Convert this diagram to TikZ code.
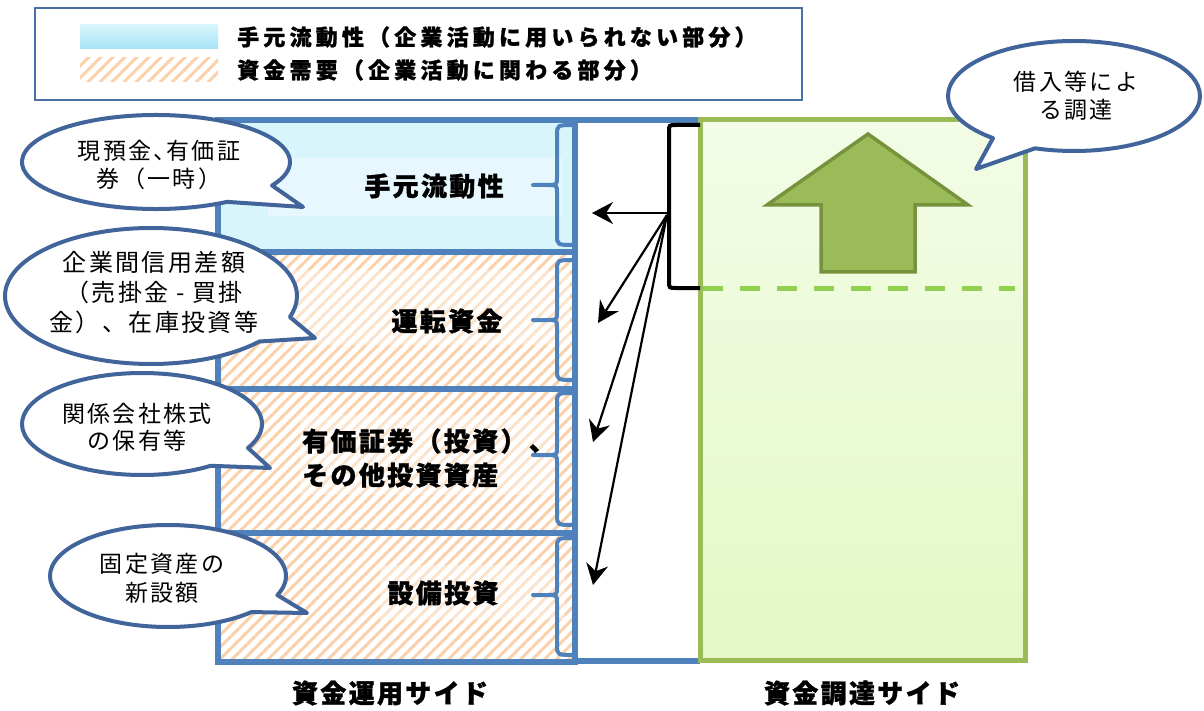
\documentclass[tikz,border=0pt]{standalone}
\usepackage{fontspec}
\setmainfont{Noto Sans CJK JP}
\newfontfamily\bubfont[LetterSpace=10]{Noto Sans CJK JP}
\newfontfamily\labfont[LetterSpace=9, BoldFeatures={FakeBold=1.2}]{Noto Sans CJK JP}
\newfontfamily\legfont[LetterSpace=19, BoldFeatures={FakeBold=1}]{Noto Sans CJK JP}
\usetikzlibrary{arrows.meta,patterns.meta}
\definecolor{colblue}{HTML}{4F81BD}
\definecolor{bubblue}{HTML}{41659A}
\definecolor{legblue}{HTML}{4A6FA5}
\definecolor{cyanfill}{HTML}{D9F5FC}
\definecolor{cyantop}{HTML}{D6F5FD}
\definecolor{cyanbot}{HTML}{A6E3F5}
\definecolor{hatchcol}{HTML}{FAD1AB}
\definecolor{greenline}{HTML}{9BBB59}
\definecolor{greentop}{HTML}{F3FCE6}
\definecolor{greenbot}{HTML}{E4F8C6}
\definecolor{arrowfill}{HTML}{9BBB59}
\definecolor{arrowline}{HTML}{76923C}
\definecolor{dashgreen}{HTML}{92D050}
\newcommand\mybubble[8]{%
  \draw[bub] ({#1+#3*cos(#6)},{#2+#4*sin(#6)}) arc[start angle=#6, end angle={#5+360}, x radius=#3, y radius=#4] -- (#7,#8) -- cycle;}
\begin{document}
\begin{tikzpicture}[x=1pt,y=-1pt,
  col/.style={draw=colblue, line width=5.5pt},
  brk/.style={draw=colblue, line width=4pt, line cap=round},
  bub/.style={draw=bubblue, fill=white, line width=4pt, line join=round},
  hatch/.style={pattern={Lines[angle=45,distance=8.5pt,line width=3pt]}, pattern color=hatchcol},
  bubtext/.style={font=\bubfont\fontsize{23}{28}\selectfont, align=center, inner sep=0pt},
  labtext/.style={font=\labfont\bfseries\fontsize{26}{34}\selectfont, inner sep=0pt},
  legtext/.style={font=\legfont\bfseries\fontsize{22}{26}\selectfont, inner sep=0pt, anchor=west},
  fan/.style={draw=black, line width=2.2pt, -{Stealth[length=21pt,width=22pt,inset=7pt]}},
  blk/.style={draw=black, line width=4pt}]
\useasboundingbox (0,0) rectangle (1204,711);
\fill[white] (0,0) rectangle (1204,711);

% legend
\draw[draw=legblue, line width=1.5pt] (35,8) rectangle (802,100);
\shade[top color=cyantop, bottom color=cyanbot] (80,25) rectangle (218,49);
\fill[white] (80,58) rectangle (218,82);
\fill[hatch] (80,58) rectangle (218,82);
\node[legtext] (leg1) at (237,37) {手元流動性（企業活動に用いられない部分）};
\node[legtext] (leg2) at (237,70) {資金需要（企業活動に関わる部分）};

% left column
\fill[cyanfill] (218,120) rectangle (575,252);
\fill[white, opacity=0.35] (268,158) rectangle (562,216);
\fill[hatch] (218,252) rectangle (575,662);
\fill[white, opacity=0.4] (283,270) rectangle (570,345);
\fill[white, opacity=0.4] (300,415) rectangle (560,495);
\fill[white, opacity=0.4] (380,565) rectangle (565,620);
\draw[col] (218,120) rectangle (575,662);
\draw[col] (218,252) -- (575,252);
\draw[col] (218,389) -- (575,389);
\draw[col] (218,533) -- (575,533);
\draw[col] (575,120) -- (700,120);
\draw[col] (575,661) -- (700,661);

% section brackets
\foreach \t/\m/\b in {125/185/245, 260/320/380, 393/455/525, 538/595/655}{
  \draw[brk] (575,\t) .. controls (557,\t) .. (557,\t+10) -- (557,\m-8) .. controls (557,\m) .. (547,\m) -- (533,\m);
  \draw[brk] (547,\m) .. controls (557,\m) .. (557,\m+8) -- (557,\b-10) .. controls (557,\b) .. (575,\b);
}

% section labels
\node[labtext] (s1) at (434,186) {手元流動性};
\node[labtext] (s2) at (447,321) {運転資金};
\node[labtext, align=left, anchor=west] (s3) at (302,458) {有価証券（投資）、\\その他投資資産};
\node[labtext] (s4) at (443,593) {設備投資};

% right column
\shade[top color=greentop, bottom color=greenbot] (700,120) rectangle (1025,660);
\draw[draw=greenline, line width=5pt] (700,120) rectangle (1025,660);
\draw[draw=dashgreen, line width=5pt, dash pattern=on 20pt off 17pt] (703,288) -- (1015,288);
\draw[draw=arrowline, fill=arrowfill, line width=3.5pt, line join=miter]
  (868,134) -- (968,205) -- (915,205) -- (915,272) -- (821,272) -- (821,205) -- (767,205) -- cycle;

% black bracket and arrows
\draw[blk] (700,125) -- (676,125) .. controls (669,125) .. (669,132) -- (669,281) .. controls (669,288) .. (676,288) -- (700,288);
\coordinate (src) at (667,213);
\coordinate (src2) at (667,215);
\coordinate (t1) at (592,213);
\coordinate (t2) at (598,323);
\coordinate (t3) at (593,442);
\coordinate (t4) at (593,585);
\draw[fan] (src) -- (t1);
\draw[fan] (src2) -- (t2);
\draw[fan] (src2) -- (t3);
\draw[fan] (src2) -- (t4);

% bubbles
\mybubble{156}{162}{134}{47}{30}{58}{303}{207}
\node[bubtext] (b1) at (159,165) {現預金、\kern-0.45em 有価証\\券（一時）};
\mybubble{151}{296}{146}{68}{18}{42}{315}{338}
\node[bubtext, font=\bubfont\fontsize{24}{30}\selectfont] (b2) at (154,293) {企業間信用差額\\（売掛金 - 買掛\\金）、在庫投資等};
\mybubble{142}{424}{120}{51}{28}{55}{270}{468}
\node[bubtext, font=\bubfont\fontsize{23}{27}\selectfont] (b3) at (137,427) {関係会社株式\\の保有等};
\mybubble{168}{576}{118}{51}{22}{45}{307}{613}
\node[bubtext, font=\bubfont\fontsize{23}{29}\selectfont] (b4) at (162,578) {固定資産の\\新設額};
\mybubble{1074}{96}{126}{55}{108}{130}{976}{169}
\node[bubtext] (b5) at (1076,96) {借入等によ\\る調達};

% bottom labels
\node[labtext] (side1) at (390,693) {資金運用サイド};
\node[labtext] (side2) at (862,693) {資金調達サイド};
\end{tikzpicture}
\end{document}
